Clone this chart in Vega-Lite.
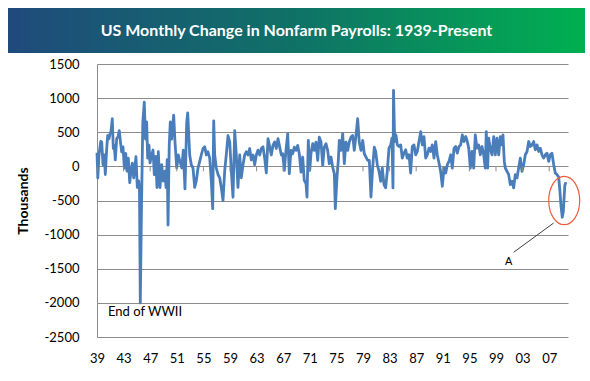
{
  "$schema": "https://vega.github.io/schema/vega-lite/v6.json",
  "background": "white",
  "padding": {"left": 8, "top": 8, "right": 5, "bottom": 5},
  "spacing": 5,
  "bounds": "full",
  "config": {"view": {"stroke": null}, "font": "Lato"},
  "datasets": {
    "payrolls": [
      {"year":1939.00,"change":200},{"year":1939.12,"change":-170},{"year":1939.30,"change":167},{"year":1939.56,"change":367},{"year":1939.71,"change":357},{"year":1939.90,"change":24},
      {"year":1940.10,"change":167},{"year":1940.25,"change":-119},{"year":1940.46,"change":262},{"year":1940.61,"change":452},{"year":1940.80,"change":405},{"year":1940.95,"change":476},
      {"year":1941.10,"change":509},{"year":1941.30,"change":700},{"year":1941.45,"change":262},{"year":1941.60,"change":310},{"year":1941.75,"change":95},{"year":1941.96,"change":405},
      {"year":1942.15,"change":428},{"year":1942.35,"change":524},{"year":1942.56,"change":333},{"year":1942.71,"change":214},{"year":1942.91,"change":286},
      {"year":1943.11,"change":-24},{"year":1943.32,"change":190},{"year":1943.51,"change":-71},{"year":1943.71,"change":119},{"year":1943.92,"change":-238},
      {"year":1944.11,"change":-71},{"year":1944.31,"change":48},{"year":1944.52,"change":-167},{"year":1944.71,"change":0},{"year":1944.86,"change":143},
      {"year":1945.06,"change":-309},{"year":1945.27,"change":-214},{"year":1945.39,"change":-350},{"year":1945.51,"change":-2000},{"year":1945.69,"change":-590},{"year":1945.89,"change":650},
      {"year":1946.11,"change":940},{"year":1946.29,"change":400},{"year":1946.47,"change":650},{"year":1946.62,"change":120},{"year":1946.82,"change":310},{"year":1946.97,"change":50},
      {"year":1947.23,"change":170},{"year":1947.42,"change":240},{"year":1947.62,"change":-120},{"year":1947.83,"change":145},
      {"year":1948.02,"change":-310},{"year":1948.22,"change":215},{"year":1948.47,"change":-310},{"year":1948.73,"change":25},{"year":1948.97,"change":-215},
      {"year":1949.23,"change":-70},{"year":1949.38,"change":-310},{"year":1949.56,"change":100},{"year":1949.68,"change":-860},{"year":1949.86,"change":300},
      {"year":1950.02,"change":650},{"year":1950.23,"change":400},{"year":1950.53,"change":750},{"year":1950.73,"change":357},{"year":1950.99,"change":-24},
      {"year":1951.23,"change":167},{"year":1951.48,"change":71},{"year":1951.74,"change":-24},{"year":1951.98,"change":238},
      {"year":1952.23,"change":-330},{"year":1952.49,"change":643},{"year":1952.64,"change":785},{"year":1952.94,"change":167},
      {"year":1953.18,"change":24},{"year":1953.44,"change":-24},{"year":1953.69,"change":-309},{"year":1953.93,"change":-214},
      {"year":1954.19,"change":-24},{"year":1954.44,"change":71},{"year":1954.68,"change":167},{"year":1954.94,"change":262},
      {"year":1955.20,"change":286},{"year":1955.44,"change":167},{"year":1955.69,"change":214},{"year":1955.95,"change":119},
      {"year":1956.19,"change":-214},{"year":1956.40,"change":-619},{"year":1956.55,"change":667},{"year":1956.70,"change":167},{"year":1956.94,"change":-24},
      {"year":1957.20,"change":-119},{"year":1957.45,"change":-167},{"year":1957.69,"change":-309},{"year":1957.95,"change":-500},
      {"year":1958.20,"change":-71},{"year":1958.44,"change":167},{"year":1958.70,"change":452},{"year":1958.96,"change":357},
      {"year":1959.20,"change":-71},{"year":1959.45,"change":-452},{"year":1959.71,"change":524},{"year":1959.95,"change":167},
      {"year":1960.20,"change":-309},{"year":1960.46,"change":167},{"year":1960.70,"change":-167},{"year":1960.96,"change":24},
      {"year":1961.21,"change":167},{"year":1961.45,"change":214},{"year":1961.71,"change":167},{"year":1961.96,"change":262},
      {"year":1962.20,"change":95},{"year":1962.46,"change":167},{"year":1962.71,"change":24},{"year":1962.96,"change":167},
      {"year":1963.21,"change":238},{"year":1963.47,"change":167},{"year":1963.71,"change":262},{"year":1963.96,"change":286},
      {"year":1964.22,"change":119},{"year":1964.46,"change":-95},{"year":1964.72,"change":405},{"year":1964.97,"change":286},
      {"year":1965.21,"change":167},{"year":1965.47,"change":310},{"year":1965.72,"change":357},{"year":1965.96,"change":262},
      {"year":1966.22,"change":405},{"year":1966.47,"change":286},{"year":1966.72,"change":167},{"year":1966.93,"change":185},
      {"year":1967.17,"change":-59},{"year":1967.42,"change":234},{"year":1967.68,"change":478},{"year":1967.92,"change":-107},
      {"year":1968.17,"change":234},{"year":1968.43,"change":185},{"year":1968.67,"change":283},{"year":1968.93,"change":234},
      {"year":1969.18,"change":307},{"year":1969.42,"change":185},{"year":1969.68,"change":-83},{"year":1969.93,"change":137},
      {"year":1970.17,"change":-205},{"year":1970.43,"change":-254},{"year":1970.58,"change":-449},{"year":1970.78,"change":381},{"year":1970.99,"change":-59},
      {"year":1971.18,"change":185},{"year":1971.44,"change":332},{"year":1971.68,"change":234},{"year":1971.93,"change":356},
      {"year":1972.19,"change":88},{"year":1972.43,"change":429},{"year":1972.69,"change":356},{"year":1972.94,"change":15},
      {"year":1973.18,"change":283},{"year":1973.44,"change":332},{"year":1973.69,"change":234},{"year":1973.93,"change":39},
      {"year":1974.19,"change":137},{"year":1974.44,"change":-10},{"year":1974.69,"change":-107},{"year":1974.84,"change":-620},
      {"year":1975.09,"change":-156},{"year":1975.29,"change":88},{"year":1975.44,"change":381},{"year":1975.69,"change":234},{"year":1975.95,"change":478},
      {"year":1976.19,"change":39},{"year":1976.44,"change":356},{"year":1976.70,"change":234},{"year":1976.94,"change":356},
      {"year":1977.20,"change":429},{"year":1977.45,"change":454},{"year":1977.69,"change":234},{"year":1977.95,"change":454},
      {"year":1978.20,"change":698},{"year":1978.44,"change":356},{"year":1978.70,"change":234},{"year":1978.96,"change":381},
      {"year":1979.20,"change":185},{"year":1979.45,"change":137},{"year":1979.71,"change":88},{"year":1979.95,"change":88},
      {"year":1980.20,"change":-449},{"year":1980.46,"change":-10},{"year":1980.70,"change":283},{"year":1980.91,"change":218},
      {"year":1981.15,"change":24},{"year":1981.41,"change":-73},{"year":1981.66,"change":-218},{"year":1981.90,"change":-24},
      {"year":1982.16,"change":-267},{"year":1982.41,"change":-315},{"year":1982.65,"change":-73},{"year":1982.91,"change":267},
      {"year":1983.17,"change":315},{"year":1983.36,"change":412},{"year":1983.51,"change":-315},{"year":1983.59,"change":1115},{"year":1983.77,"change":364},{"year":1983.96,"change":461},
      {"year":1984.16,"change":315},{"year":1984.41,"change":291},{"year":1984.67,"change":315},{"year":1984.91,"change":121},
      {"year":1985.17,"change":194},{"year":1985.42,"change":243},{"year":1985.66,"change":121},{"year":1985.92,"change":170},
      {"year":1986.17,"change":-97},{"year":1986.41,"change":291},{"year":1986.67,"change":315},{"year":1986.93,"change":170},
      {"year":1987.17,"change":218},{"year":1987.42,"change":364},{"year":1987.68,"change":509},{"year":1987.92,"change":315},
      {"year":1988.17,"change":437},{"year":1988.43,"change":121},{"year":1988.67,"change":170},{"year":1988.93,"change":267},
      {"year":1989.18,"change":218},{"year":1989.42,"change":315},{"year":1989.68,"change":121},{"year":1989.93,"change":364},
      {"year":1990.17,"change":170},{"year":1990.43,"change":49},{"year":1990.68,"change":-73},{"year":1990.93,"change":-291},
      {"year":1991.18,"change":-24},{"year":1991.44,"change":-97},{"year":1991.68,"change":24},{"year":1991.93,"change":73},
      {"year":1992.19,"change":170},{"year":1992.43,"change":-24},{"year":1992.69,"change":267},{"year":1992.94,"change":291},
      {"year":1993.18,"change":194},{"year":1993.44,"change":291},{"year":1993.69,"change":315},{"year":1993.93,"change":461},
      {"year":1994.19,"change":364},{"year":1994.45,"change":437},{"year":1994.69,"change":364},{"year":1994.90,"change":267},
      {"year":1995.14,"change":-24},{"year":1995.39,"change":218},{"year":1995.65,"change":-24},{"year":1995.89,"change":461},
      {"year":1996.14,"change":267},{"year":1996.40,"change":315},{"year":1996.64,"change":170},{"year":1996.90,"change":291},
      {"year":1997.15,"change":170},{"year":1997.39,"change":-24},{"year":1997.54,"change":509},{"year":1997.75,"change":-24},{"year":1997.90,"change":412},
      {"year":1998.14,"change":267},{"year":1998.40,"change":170},{"year":1998.66,"change":437},{"year":1998.90,"change":170},
      {"year":1999.15,"change":412},{"year":1999.41,"change":170},{"year":1999.65,"change":437},{"year":1999.90,"change":315},
      {"year":2000.05,"change":461},{"year":2000.25,"change":73},{"year":2000.40,"change":-24},{"year":2000.66,"change":-73},{"year":2000.91,"change":-121},
      {"year":2001.15,"change":-267},{"year":2001.41,"change":-218},{"year":2001.66,"change":-315},{"year":2001.90,"change":-121},
      {"year":2002.16,"change":-170},{"year":2002.41,"change":-24},{"year":2002.66,"change":121},{"year":2002.91,"change":-73},
      {"year":2003.17,"change":24},{"year":2003.41,"change":170},{"year":2003.67,"change":218},{"year":2003.92,"change":364},
      {"year":2004.16,"change":291},{"year":2004.42,"change":315},{"year":2004.67,"change":364},{"year":2004.91,"change":243},
      {"year":2005.17,"change":315},{"year":2005.42,"change":218},{"year":2005.66,"change":267},{"year":2005.92,"change":170},
      {"year":2006.17,"change":121},{"year":2006.42,"change":170},{"year":2006.67,"change":194},{"year":2006.93,"change":73},
      {"year":2007.17,"change":170},{"year":2007.42,"change":194},{"year":2007.68,"change":24},{"year":2007.92,"change":-97},
      {"year":2008.17,"change":-120},{"year":2008.43,"change":-155},{"year":2008.62,"change":-370},{"year":2008.77,"change":-570},{"year":2008.97,"change":-745},
      {"year":2009.13,"change":-660},{"year":2009.35,"change":-280},{"year":2009.52,"change":-230}
    ],
    "xmarks": [
      {"year":1939},{"year":1943},{"year":1947},{"year":1951},{"year":1955},{"year":1959},{"year":1963},{"year":1967},{"year":1971},
      {"year":1975},{"year":1979},{"year":1983},{"year":1987},{"year":1991},{"year":1995},{"year":1999},{"year":2003},{"year":2007}
    ],
    "circle": [{"year":2009.26,"change":-500}],
    "pointer": [{"year":2007.67,"change":-830,"year2":2001.65,"change2":-1259}],
    "noteA": [{"year":2000.9,"change":-1406,"label":"A"}],
    "noteWar": [{"year":1940.66,"change":-2135,"label":"End of WWII"}]
  },
  "vconcat": [
    {
      "width": 577,
      "height": 45,
      "data": {"values": [{"title": "US Monthly Change in Nonfarm Payrolls: 1939-Present"}]},
      "layer": [
        {
          "mark": {
            "type": "rect",
            "color": {
              "gradient": "linear",
              "x1": 0, "y1": 0, "x2": 1, "y2": 0,
              "stops": [
                {"offset": 0, "color": "#1f4a7c"},
                {"offset": 0.5, "color": "#0f7266"},
                {"offset": 1, "color": "#00b050"}
              ]
            }
          },
          "encoding": {}
        },
        {
          "mark": {"type": "text", "color": "white", "font": "Lato", "fontSize": 16, "fontWeight": "bold", "align": "center", "baseline": "middle"},
          "encoding": {"text": {"field": "title", "type": "nominal"}}
        }
      ]
    },
    {
      "spacing": 0,
      "hconcat": [
        {
          "width": 8,
          "height": 273,
          "data": {"values": [{"spacer": 1}]},
          "mark": {"type": "rect", "opacity": 0},
          "encoding": {}
        },
        {
          "width": 471,
          "height": 273,
          "resolve": {"axis": {"x": "independent", "y": "independent"}},
          "layer": [
            {
              "data": {"name": "payrolls"},
              "mark": {"type": "line", "color": "#4a7ebb", "strokeWidth": 2.8, "strokeJoin": "round"},
              "encoding": {
                "x": {
                  "field": "year", "type": "quantitative",
                  "scale": {"domain": [1939, 2009.83], "nice": false, "zero": false},
                  "axis": {
                    "orient": "bottom",
                    "values": [1939,1943,1947,1951,1955,1959,1963,1967,1971,1975,1979,1983,1987,1991,1995,1999,2003,2007],
                    "format": "d",
                    "labelExpr": "slice(datum.label, 2)",
                    "grid": false, "domain": false, "ticks": false,
                    "labelPadding": 15, "labelFont": "Lato", "labelFontSize": 13, "labelColor": "#000000",
                    "labelOverlap": false, "labelFlush": false, "title": null
                  }
                },
                "y": {
                  "field": "change", "type": "quantitative",
                  "scale": {"domain": [-2500, 1500], "nice": false, "zero": false},
                  "axis": {
                    "orient": "left",
                    "values": [-2500,-2000,-1500,-1000,-500,0,500,1000,1500],
                    "labelExpr": "toString(datum.value)",
                    "grid": true, "gridColor": "#8c8c8c", "gridWidth": 1,
                    "domain": true, "domainColor": "#8c8c8c",
                    "ticks": false, "labelPadding": 18, "labelOverlap": false,
                    "labelFont": "Lato", "labelFontSize": 13, "labelColor": "#000000",
                    "title": "Thousands", "titleFont": "Lato", "titleFontSize": 14, "titleFontWeight": "bold",
                    "titleColor": "#000000", "titlePadding": 14
                  }
                }
              }
            },
            {
              "data": {"name": "xmarks"},
              "mark": {"type": "rule", "color": "#8c8c8c", "strokeWidth": 1},
              "encoding": {
                "x": {"field": "year", "type": "quantitative", "axis": null},
                "y": {"datum": 0, "type": "quantitative", "axis": null},
                "y2": {"datum": -73}
              }
            },
            {
              "data": {"name": "circle"},
              "mark": {
                "type": "point",
                "shape": "M0,-1 A0.64,1 0 1,1 0,1 A0.64,1 0 1,1 0,-1 Z",
                "size": 2343, "filled": false, "stroke": "#ec5f3e", "strokeWidth": 1.2, "opacity": 1
              },
              "encoding": {
                "x": {"field": "year", "type": "quantitative", "axis": null},
                "y": {"field": "change", "type": "quantitative", "axis": null}
              }
            },
            {
              "data": {"name": "pointer"},
              "mark": {"type": "rule", "color": "#404040", "strokeWidth": 1},
              "encoding": {
                "x": {"field": "year", "type": "quantitative", "axis": null},
                "x2": {"field": "year2"},
                "y": {"field": "change", "type": "quantitative", "axis": null},
                "y2": {"field": "change2"}
              }
            },
            {
              "data": {"name": "noteA"},
              "mark": {"type": "text", "font": "Liberation Sans", "fontSize": 11, "color": "#000000", "align": "center", "baseline": "middle"},
              "encoding": {
                "x": {"field": "year", "type": "quantitative", "axis": null},
                "y": {"field": "change", "type": "quantitative", "axis": null},
                "text": {"field": "label", "type": "nominal"}
              }
            },
            {
              "data": {"name": "noteWar"},
              "mark": {"type": "text", "font": "Lato", "fontSize": 13, "color": "#000000", "align": "left", "baseline": "middle"},
              "encoding": {
                "x": {"field": "year", "type": "quantitative", "axis": null},
                "y": {"field": "change", "type": "quantitative", "axis": null},
                "text": {"field": "label", "type": "nominal"}
              }
            }
          ]
        }
      ]
    }
  ]
}
